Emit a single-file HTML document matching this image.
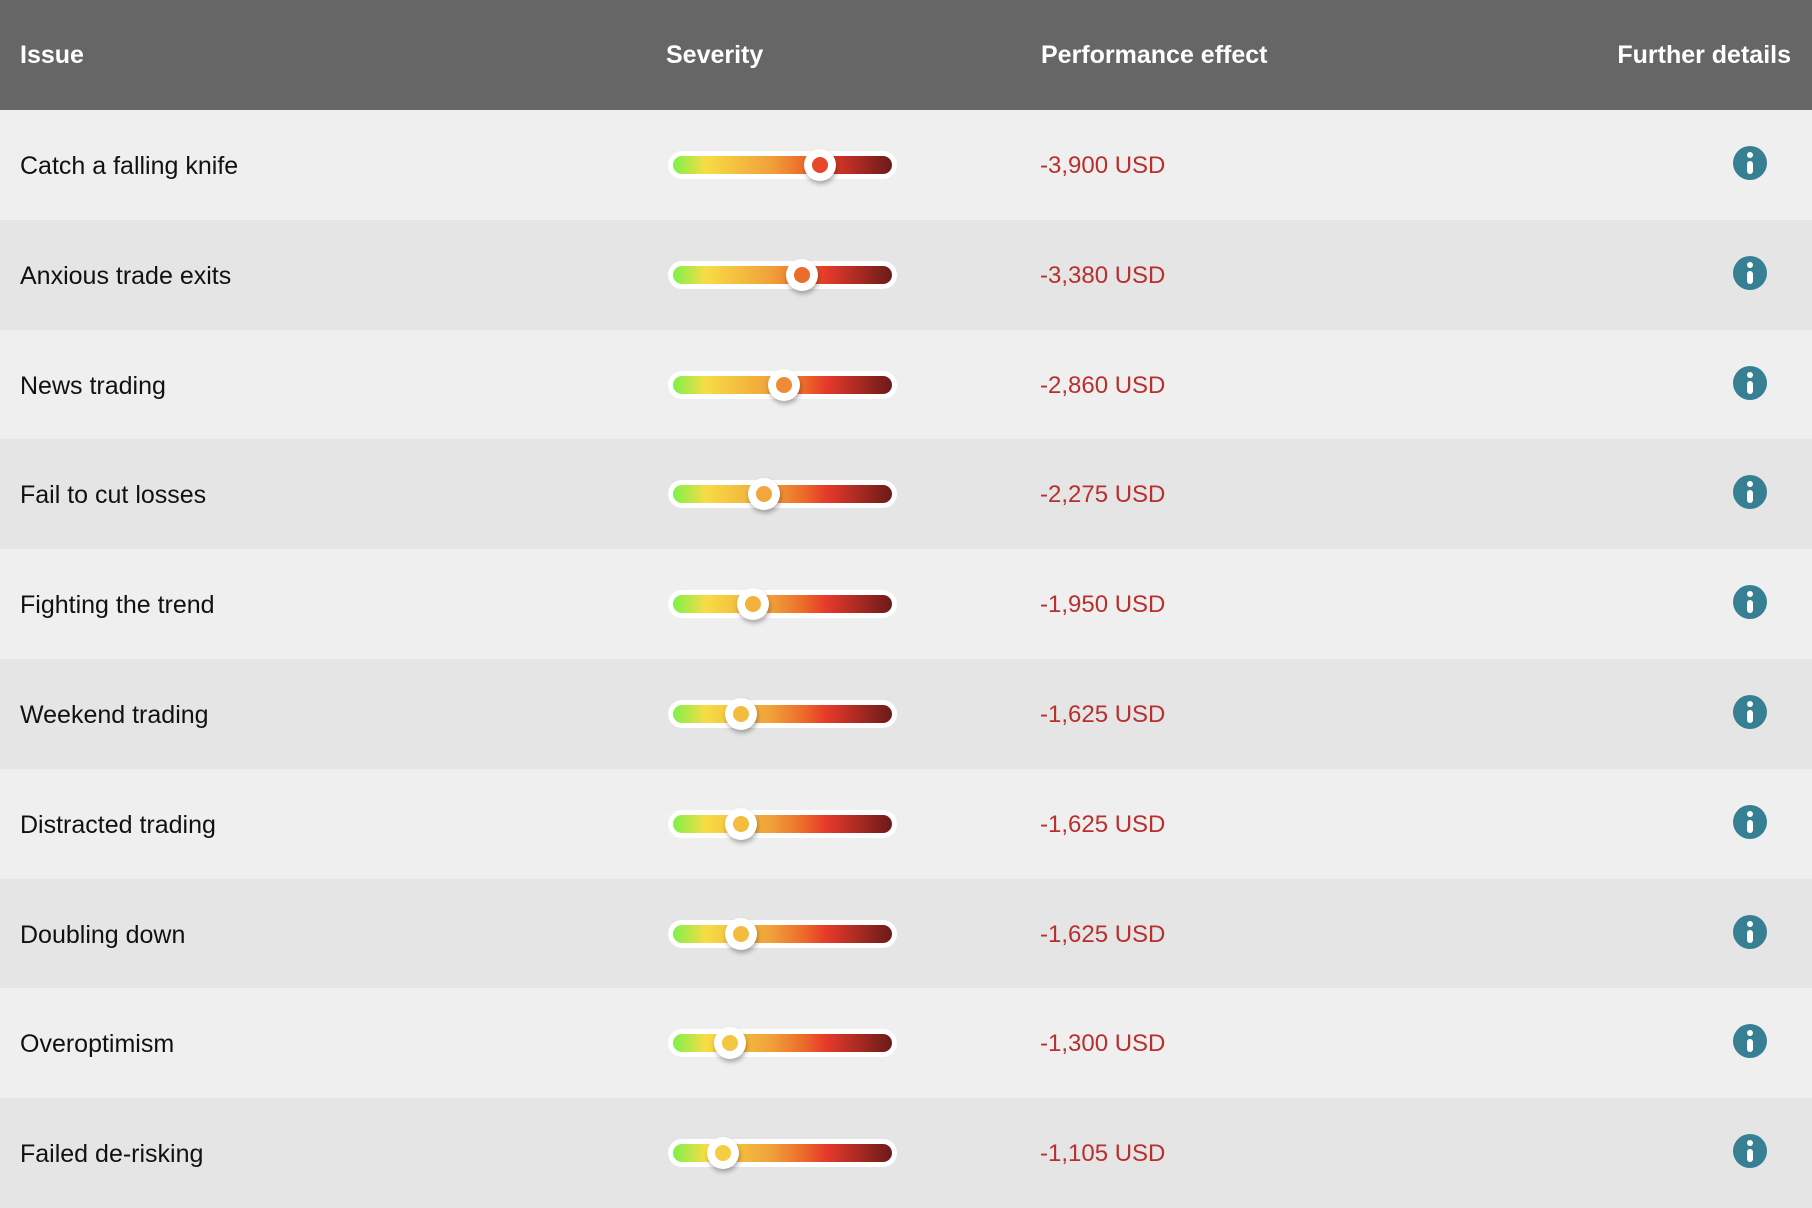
<!DOCTYPE html>
<html><head><meta charset="utf-8"><style>
body{margin:0;width:1812px;height:1208px;overflow:hidden;background:#efefef;font-family:"Liberation Sans",sans-serif}
#hdr{position:absolute;left:0;top:0;width:1812px;height:110px;background:#666}
.h{position:absolute;top:41px;color:#fff;font-weight:bold;font-size:25px}
.row{position:absolute;left:0;width:1812px;height:110px}
.lbl{position:absolute;left:20px;top:42px;font-size:25px;color:#111}
.val{position:absolute;left:1040px;top:42px;font-size:24px;color:#b8302e}
.bar{position:absolute;left:668px;top:41px;width:229px;height:28px;border-radius:14px;background:#fff}
.bar i{position:absolute;left:5px;top:5px;right:5px;bottom:5px;border-radius:9px;background:linear-gradient(90deg,#7ef04a 0%,#f8dc45 15%,#f0a03a 45%,#ec6a2a 60%,#e53a2a 70%,#6b1a1a 100%)}
.th{position:absolute;top:39px;width:32px;height:32px;margin-left:-16px;border-radius:50%;background:#fff;box-shadow:1px 3px 5px rgba(0,0,0,.3)}
.th b{position:absolute;left:8px;top:8px;width:16px;height:16px;border-radius:50%}
.info{position:absolute;left:1733px;width:34px;height:34px;border-radius:50%;background:#377f93}
.info:before{content:"";position:absolute;left:14px;top:6px;width:6px;height:6px;border-radius:50%;background:#fff}
.info:after{content:"";position:absolute;left:14px;top:15px;width:6px;height:13px;border-radius:3px;background:#fff}
</style></head><body>
<div id="hdr">
<div class="h" style="left:20px">Issue</div>
<div class="h" style="left:666px">Severity</div>
<div class="h" style="left:1041px">Performance effect</div>
<div class="h" style="right:21px">Further details</div>
</div>
<div id="rows"></div>
<script>
const issues=["Catch a falling knife","Anxious trade exits","News trading","Fail to cut losses","Fighting the trend","Weekend trading","Distracted trading","Doubling down","Overoptimism","Failed de-risking"];
const effects=[3900,3380,2860,2275,1950,1625,1625,1625,1300,1105];
const xs=v=>685+v*0.0347;
const stops=[[0,[126,240,74]],[.15,[248,220,69]],[.45,[240,160,58]],[.6,[236,106,42]],[.7,[229,58,42]],[1,[107,26,26]]];
function col(t){for(let i=1;i<stops.length;i++){if(t<=stops[i][0]){const a=stops[i-1],b=stops[i],f=(t-a[0])/(b[0]-a[0]);return 'rgb('+a[1].map((c,k)=>Math.round(c+(b[1][k]-c)*f)).join(',')+')';}}return 'rgb(107,26,26)';}
const R=document.getElementById('rows');
issues.forEach((n,i)=>{
const r=document.createElement('div');r.className='row';r.style.top=(110+i*109.8)+'px';r.style.background=i%2?'#e5e5e5':'#efefef';


const x=xs(effects[i]);const t=(x-673)/219;
r.innerHTML='<div class="lbl">'+n+'</div><div class="bar"><i></i></div><div class="th" style="left:'+x+'px"><b style="background:'+col(t)+'"></b></div><div class="val">-'+effects[i].toLocaleString('en-US')+' USD</div><div class="info" style="top:36px"></div>';
R.appendChild(r);});
</script>
</body></html>
